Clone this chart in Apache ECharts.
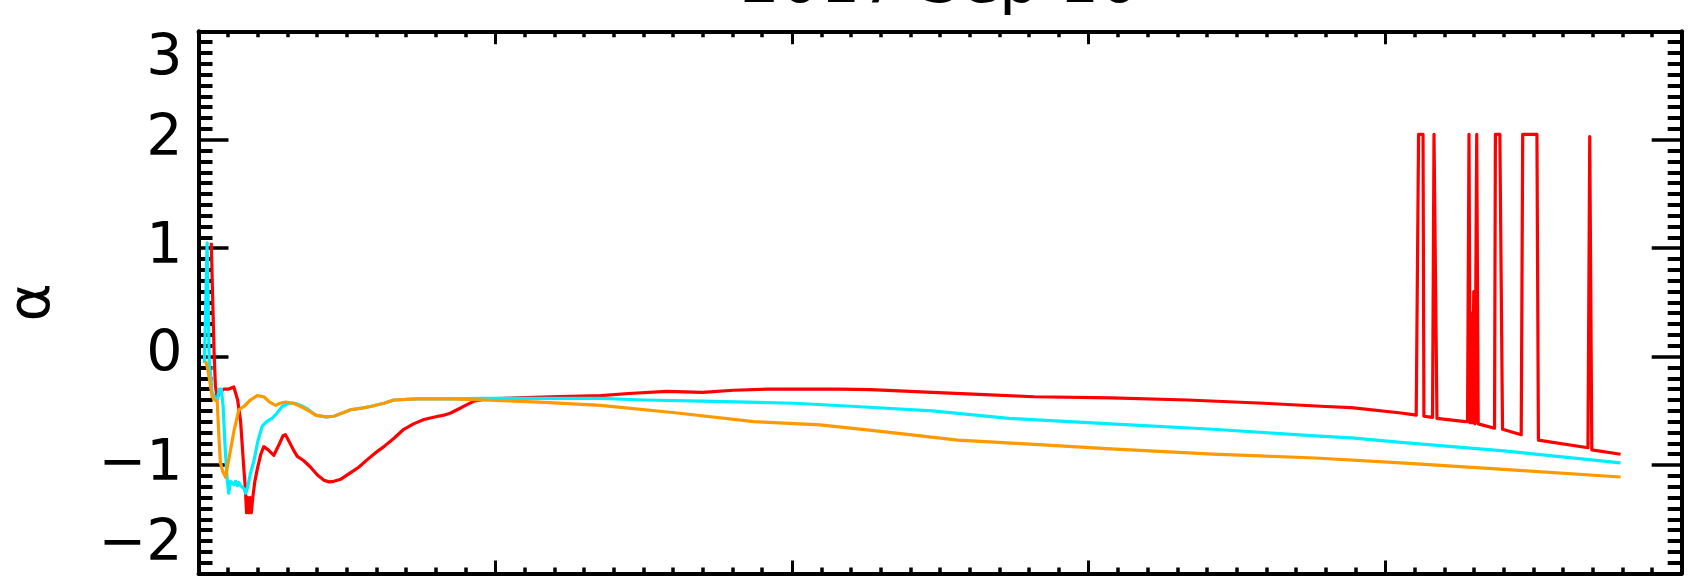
<!DOCTYPE html>
<html>
<head>
<meta charset="utf-8">
<script src="https://cdn.jsdelivr.net/npm/echarts@6/dist/echarts.min.js"></script>
<style>
  html, body { margin: 0; padding: 0; background: #ffffff; }
  #chart { width: 1690px; height: 585px; }
</style>
</head>
<body>
<div id="chart"></div>
<script>
// Spectral index alpha versus time for three channels.
const titleText = '2017 Sep 10';
const yAxisName = 'α';

// Red channel
const redX = [0.043, 0.050, 0.053, 0.057, 0.063, 0.072, 0.085, 0.100, 0.119, 0.132,
  0.142, 0.152, 0.158, 0.162, 0.166, 0.170, 0.174, 0.178, 0.183, 0.190,
  0.198, 0.210, 0.220, 0.235, 0.254, 0.270, 0.285, 0.293, 0.305, 0.320,
  0.333, 0.355, 0.378, 0.400, 0.423, 0.440, 0.456, 0.480, 0.513, 0.540,
  0.569, 0.600, 0.625, 0.660, 0.692, 0.725, 0.760, 0.800, 0.827, 0.850,
  0.872, 0.900, 0.929, 0.960, 0.985, 1.075, 1.187, 1.356, 1.450, 1.578,
  1.700, 1.803, 1.920, 2.044, 2.160, 2.266, 2.474, 2.650, 2.818, 3.076,
  3.334, 3.592, 3.800, 3.886, 4.054, 4.105, 4.113, 4.128, 4.131, 4.160,
  4.165, 4.175, 4.270, 4.278, 4.283, 4.287, 4.291, 4.295, 4.299, 4.303,
  4.309, 4.314, 4.369, 4.372, 4.387, 4.396, 4.459, 4.464, 4.512, 4.517,
  4.684, 4.690, 4.697, 4.794];
const redY = [1.05, 0.30, 0.00, -0.27, -0.38, -0.33, -0.30, -0.30, -0.28, -0.40,
  -0.60, -1.00, -1.22, -1.44, -1.30, -1.44, -1.30, -1.44, -1.30, -1.15,
  -1.04, -0.90, -0.83, -0.86, -0.91, -0.82, -0.73, -0.72, -0.78, -0.86,
  -0.92, -0.96, -1.02, -1.09, -1.14, -1.155, -1.15, -1.13, -1.07, -1.02,
  -0.95, -0.88, -0.83, -0.75, -0.67, -0.62, -0.58, -0.555, -0.54, -0.52,
  -0.49, -0.45, -0.41, -0.395, -0.39, -0.38, -0.37, -0.36, -0.34, -0.32,
  -0.33, -0.31, -0.30, -0.30, -0.30, -0.305, -0.33, -0.35, -0.37, -0.38,
  -0.40, -0.43, -0.46, -0.47, -0.52, -0.54, 2.05, 2.05, -0.55, -0.56,
  2.05, -0.57, -0.60, -0.60, 2.05, -0.61, 0.40, -0.61, 0.60, -0.62,
  2.05, -0.62, -0.66, 2.05, 2.05, -0.67, -0.72, 2.05, 2.05, -0.77,
  -0.84, 2.03, -0.86, -0.90];

// Cyan channel
const cyanX = [0.020, 0.029, 0.036, 0.046, 0.055, 0.063, 0.070, 0.077, 0.083, 0.090,
  0.097, 0.102, 0.108, 0.114, 0.120, 0.125, 0.131, 0.136, 0.142, 0.148,
  0.154, 0.159, 0.166, 0.175, 0.187, 0.200, 0.215, 0.230, 0.248, 0.265,
  0.282, 0.304, 0.325, 0.345, 0.366, 0.385, 0.400, 0.430, 0.456, 0.485,
  0.513, 0.550, 0.580, 0.625, 0.659, 0.737, 0.850, 0.962, 1.150, 1.356,
  1.500, 1.700, 1.850, 2.010, 2.216, 2.474, 2.732, 3.076, 3.420, 3.764,
  3.886, 4.054, 4.400, 4.794];
const cyanY = [-0.06, 1.05, -0.03, -0.33, -0.38, -0.40, -0.30, -0.30, -0.46, -0.85,
  -1.14, -1.26, -1.15, -1.14, -1.18, -1.15, -1.19, -1.16, -1.19, -1.20,
  -1.22, -1.26, -1.20, -1.08, -0.96, -0.78, -0.64, -0.60, -0.57, -0.52,
  -0.46, -0.43, -0.43, -0.45, -0.48, -0.52, -0.545, -0.555, -0.55, -0.52,
  -0.49, -0.475, -0.46, -0.43, -0.40, -0.39, -0.39, -0.385, -0.385, -0.385,
  -0.40, -0.41, -0.42, -0.43, -0.46, -0.50, -0.57, -0.62, -0.67, -0.73,
  -0.75, -0.79, -0.87, -0.98];

// Orange channel
const orangeX = [0.024, 0.030, 0.037, 0.046, 0.055, 0.063, 0.070, 0.074, 0.082, 0.091,
  0.096, 0.108, 0.120, 0.136, 0.153, 0.175, 0.198, 0.220, 0.240, 0.260,
  0.275, 0.293, 0.320, 0.345, 0.372, 0.395, 0.430, 0.456, 0.485, 0.513,
  0.550, 0.580, 0.625, 0.659, 0.737, 0.850, 0.962, 1.150, 1.356, 1.614,
  1.872, 2.095, 2.300, 2.560, 2.818, 3.076, 3.420, 3.764, 4.054, 4.400,
  4.794];
const orangeY = [-0.04, -0.10, -0.21, -0.37, -0.40, -0.41, -0.80, -0.98, -1.06, -1.11,
  -1.12, -0.86, -0.68, -0.49, -0.46, -0.40, -0.36, -0.37, -0.42, -0.45,
  -0.43, -0.42, -0.43, -0.46, -0.50, -0.54, -0.555, -0.55, -0.52, -0.49,
  -0.475, -0.46, -0.43, -0.40, -0.39, -0.39, -0.40, -0.42, -0.45, -0.52,
  -0.60, -0.63, -0.69, -0.77, -0.81, -0.85, -0.90, -0.935, -0.98, -1.04,
  -1.11];

const xRange = [0, 5];
const yRange = [-2, 3];

function pairs(xs, ys) { return xs.map((x, i) => [x, ys[i]]); }

const FONT = 'DejaVu Sans';
const frame = { show: true, onZero: false, lineStyle: { color: '#000', width: 4 } };

function xAxisDef(position) {
  return {
    type: 'value', position, min: xRange[0], max: xRange[1], interval: 1,
    axisLine: frame,
    axisTick: { show: true, inside: true, length: 13, lineStyle: { color: '#000', width: 3 } },
    minorTick: { show: true, splitNumber: 10, length: 6, lineStyle: { color: '#000', width: 3.5 } },
    axisLabel: { show: false },
    splitLine: { show: false }, minorSplitLine: { show: false }
  };
}

function yAxisDef(position, withLabels) {
  const axis = {
    type: 'value', position, min: yRange[0], max: yRange[1], interval: 1,
    axisLine: frame,
    axisTick: { show: true, inside: true, length: 30, lineStyle: { color: '#000', width: 3.5 } },
    minorTick: { show: true, splitNumber: 10, length: 14, lineStyle: { color: '#000', width: 4 } },
    splitLine: { show: false }, minorSplitLine: { show: false },
    axisLabel: { show: false }
  };
  if (withLabels) {
    axis.axisLabel = {
      show: true, margin: 16, color: '#000', fontFamily: FONT, fontSize: 57,
      verticalAlignMinLabel: 'bottom',
      verticalAlignMaxLabel: 'top',
      formatter: v => (v < 0 ? '\u2212' + Math.abs(v) : String(v))
    };
    axis.name = yAxisName;
    axis.nameLocation = 'middle';
    axis.nameRotate = 90;
    axis.nameGap = 136;
    axis.nameMoveOverlap = false;
    axis.nameTextStyle = { color: '#000', fontFamily: FONT, fontSize: 58 };
  }
  return axis;
}

function lineSeries(name, xs, ys, color) {
  return {
    name, type: 'line', xAxisIndex: 0, yAxisIndex: 0,
    data: pairs(xs, ys), showSymbol: false, symbol: 'none', smooth: false,
    clip: true, animation: false,
    lineStyle: { color, width: 3.2, join: 'round' }
  };
}

const chart = echarts.init(document.getElementById('chart'));
chart.setOption({
  backgroundColor: '#ffffff',
  animation: false,
  title: {
    text: titleText, left: 740, top: -46, padding: 0,
    textStyle: { color: '#000', fontFamily: FONT, fontSize: 63, fontWeight: 'normal' }
  },
  grid: { left: 198.5, right: 8.3, top: 31.3, bottom: 11.5, containLabel: false, outerBoundsMode: 'none' },
  xAxis: [xAxisDef('bottom'), xAxisDef('top')],
  yAxis: [yAxisDef('left', true), yAxisDef('right', false)],
  series: [
    lineSeries('red', redX, redY, '#ff0000'),
    lineSeries('cyan', cyanX, cyanY, '#00eeff'),
    lineSeries('orange', orangeX, orangeY, '#ff9900')
  ]
});
</script>
</body>
</html>
